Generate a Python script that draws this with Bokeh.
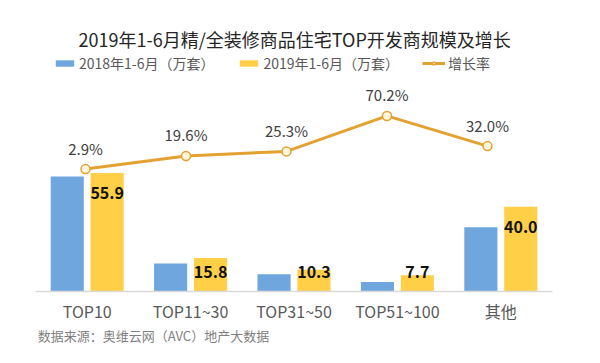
from bokeh.plotting import figure
from bokeh.models import Range1d, ColumnDataSource, Legend, LegendItem, FixedTicker, LinearAxis
from bokeh.core.properties import value
from bokeh.embed import file_html
from bokeh.resources import INLINE

# ---- data ----
cats = ["TOP10", "TOP11~30", "TOP31~50", "TOP51~100", "其他"]
v2018 = [54.3, 13.2, 8.2, 4.5, 30.3]
v2019 = [55.9, 15.8, 10.3, 7.7, 40.0]
growth = [2.9, 19.6, 25.3, 70.2, 32.0]

title_text = "2019年1-6月精/全装修商品住宅TOP开发商规模及增长"
source_text = "数据来源：奥维云网（AVC）地产大数据"
legend_labels = ["2018年1-6月（万套）", "2019年1-6月（万套）", "增长率"]

FONT = "Noto Sans CJK SC"
BLUE = "#6FA6DE"
YELLOW = "#FFCF48"
ORANGE = "#E3A132"
OFF = 0.193
SRC_POS = 0.641

idx = list(range(len(cats)))
bar_src = ColumnDataSource(dict(
    x1=[i - OFF for i in idx], x2=[i + OFF for i in idx],
    v2018=v2018, v2019=v2019,
    lab=[f"{v:.1f}" for v in v2019],
    laby=[max(v - 9.5, 9.0) for v in v2019],
))
line_src = ColumnDataSource(dict(
    idx=idx, g=growth,
    lab=[f"{g:.1f}%" for g in growth],
))

x_rng = Range1d(-0.5, len(cats) - 0.5)
y_rng = Range1d(0, 137.4)
p = figure(width=584, height=347, x_range=x_rng, y_range=y_rng,
           output_backend="svg", toolbar_location=None, title_location=None,
           min_border_left=35, min_border_right=32,
           min_border_top=0, min_border_bottom=53)
p.yaxis.visible = False
p.extra_x_ranges = {"line": Range1d(-0.4975, 4.647)}
p.extra_y_ranges = {"rate": Range1d(-152.0, 216.3)}
p.outline_line_color = None
p.xgrid.visible = False
p.ygrid.visible = False
p.background_fill_color = "white"
p.border_fill_color = "white"

# chart title, anchored to the top-left corner of the plotting area
title_src = ColumnDataSource(dict(x=[x_rng.start], y=[y_rng.end], text=[title_text]))
p.text(x="x", y="y", text="text", source=title_src, x_offset=43, y_offset=38,
       text_align="left", text_baseline="middle", text_font=value(FONT),
       text_font_size="18px", text_color="#262626")

b1 = p.vbar(x="x1", top="v2018", width=0.32,
            source=bar_src, fill_color=BLUE, line_color=None)
b2 = p.vbar(x="x2", top="v2019", width=0.32,
            source=bar_src, fill_color=YELLOW, line_color=None)
p.text(x="x2", y="laby", text="lab", source=bar_src,
       text_align="center", text_baseline="middle", text_font=value(FONT),
       text_font_size="16px", text_font_style="bold", text_color="#111111")

ln = p.line(x="idx", y="g", source=line_src, x_range_name="line", y_range_name="rate",
            line_color=ORANGE, line_width=3)
mk = p.scatter(x="idx", y="g", source=line_src, x_range_name="line", y_range_name="rate",
               size=9, fill_color="#FFF6DC", line_color=ORANGE, line_width=1.5)
p.text(x="idx", y="g", text="lab", source=line_src, x_range_name="line", y_range_name="rate",
       y_offset=-21, text_align="center", text_baseline="middle", text_font=value(FONT),
       text_font_size="15px", text_color="#404040")

ax = p.xaxis[0]
ax.ticker = FixedTicker(ticks=idx)
ax.major_label_overrides = {i: c for i, c in zip(idx, cats)}
ax.axis_line_color = "#D9D9D9"
ax.axis_line_width = 1.5
ax.major_tick_line_color = None
ax.minor_tick_line_color = None
ax.major_tick_out = 0
ax.major_tick_in = 0
ax.minor_tick_out = 0
ax.minor_tick_in = 0
ax.axis_label_standoff = 0
ax.major_label_standoff = 7
ax.major_label_text_font = FONT
ax.major_label_text_font_size = "16px"
ax.major_label_text_color = "#595959"

# source note as a second, line-less axis below
src_ax = LinearAxis(ticker=FixedTicker(ticks=[SRC_POS]),
                    major_label_overrides={SRC_POS: source_text})
src_ax.axis_line_color = None
src_ax.major_tick_line_color = None
src_ax.minor_tick_line_color = None
src_ax.major_tick_out = 0
src_ax.major_tick_in = 0
src_ax.minor_tick_out = 0
src_ax.minor_tick_in = 0
src_ax.axis_label_standoff = 0
src_ax.major_label_standoff = 0
src_ax.major_label_text_font = FONT
src_ax.major_label_text_font_size = "13px"
src_ax.major_label_text_color = "#7F7F7F"
p.add_layout(src_ax, "below")

legend = Legend(items=[
    LegendItem(label=legend_labels[0], renderers=[b1]),
    LegendItem(label=legend_labels[1], renderers=[b2]),
    LegendItem(label=legend_labels[2], renderers=[ln, mk]),
], orientation="horizontal", location=(18, 218), padding=0, margin=0, spacing=23,
   glyph_width=23, glyph_height=8, label_standoff=3, label_height=16,
   label_text_font=FONT,
   label_text_font_size="14px", label_text_color="#595959",
   border_line_color=None, background_fill_alpha=0)
p.add_layout(legend)

open("out.html", "w").write(file_html(p, INLINE))
